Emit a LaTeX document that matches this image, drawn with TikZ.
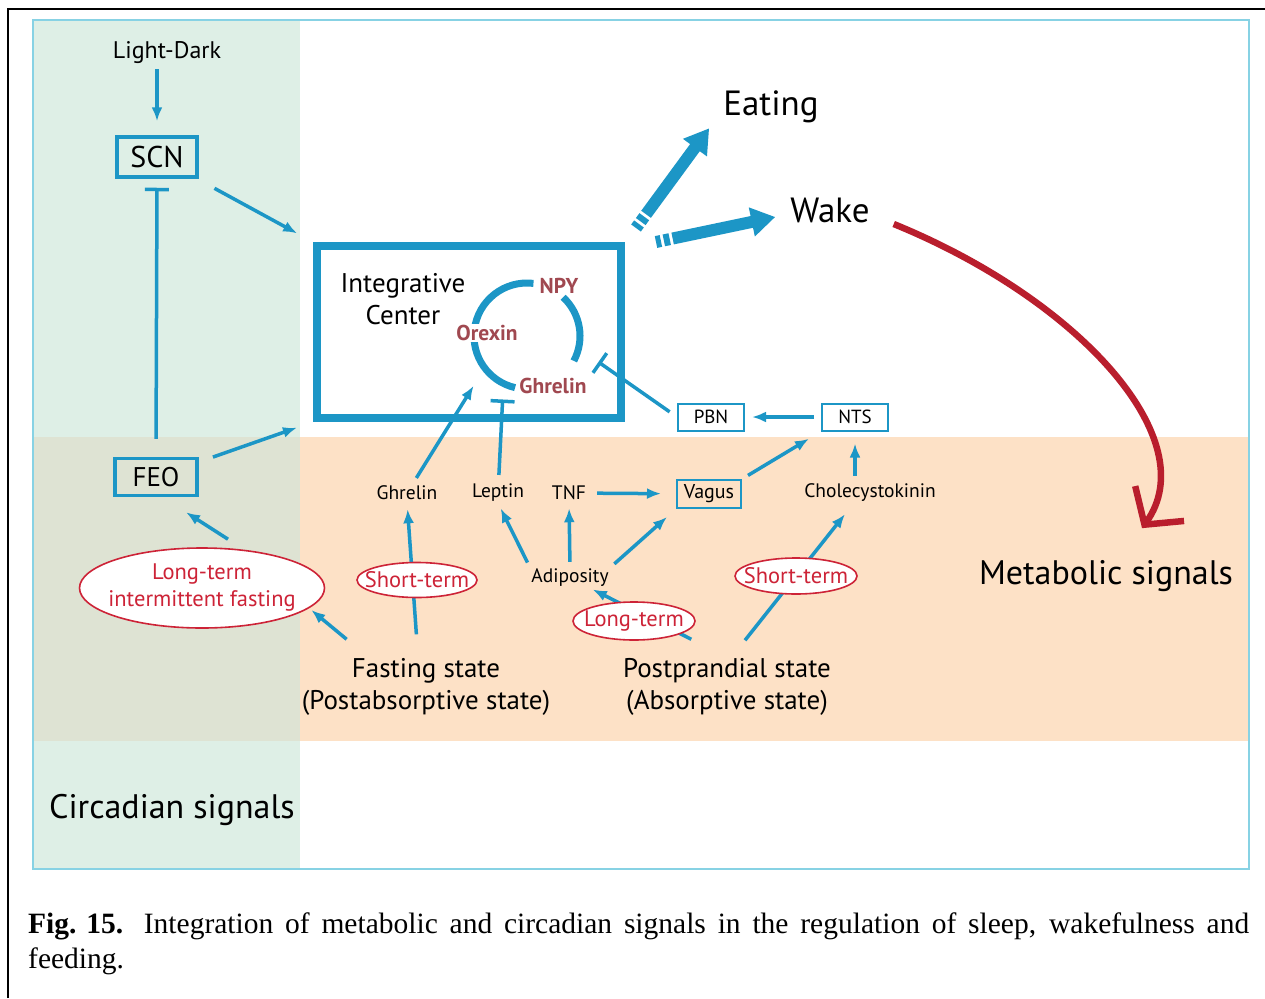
\documentclass[tikz,border=0pt]{standalone}
\usepackage{fontspec}
\setmainfont{Liberation Serif}
\newfontfamily\diafont{PT Sans}
\usetikzlibrary{arrows.meta,shapes.geometric,calc,shadows}

\definecolor{cblue}{RGB}{28,150,198}
\definecolor{cred}{RGB}{205,35,55}
\definecolor{cdark}{RGB}{185,30,45}
\definecolor{cbrown}{RGB}{160,72,80}
\definecolor{cgreen}{RGB}{222,239,230}
\definecolor{corange}{RGB}{253,225,198}
\definecolor{cmix}{RGB}{222,227,211}
\definecolor{cpanel}{RGB}{135,210,228}

\tikzset{
  fnt/.style={font=\diafont\fontsize{#1}{#1}\selectfont},
  lbl/.style={inner sep=1pt, fnt=#1},
  conn/.style={draw=cblue, line width=3.5pt, -{Latex[length=14pt,width=11pt]}},
  inh/.style={draw=cblue, line width=3.5pt, -{Bar[width=24pt,line width=3.5pt]}},
  bigbox/.style={draw=cblue, line width=3.5pt, inner sep=0pt},
  smallbox/.style={draw=cblue, line width=2pt, inner sep=0pt, minimum height=27pt, minimum width=66pt, fnt=19},
  term/.style={ellipse, draw=cred, line width=1.6pt, fill=white, text=cred, inner xsep=-16pt, inner ysep=-6pt},
  peptide/.style={text=cbrown, inner sep=1pt, font=\diafont\bfseries\fontsize{21.5}{21.5}\selectfont},
  bigarr/.style={draw=cblue, line width=12pt, -{Triangle[length=24pt,width=28pt]}, dash pattern=on 5pt off 3pt on 6pt off 3pt on 400pt},
  redarr/.style={draw=cdark, line width=6.5pt, -{Straight Barb[length=26pt,width=60pt,line width=6.5pt]}},
}

\begin{document}
\begin{tikzpicture}[x=1pt,y=-1pt]
\useasboundingbox (0,0) rectangle (1265,998);
\fill[white] (0,0) rectangle (1265,998);
\fill[cgreen] (33,20) rectangle (300,869);
\fill[corange] (300,437) rectangle (1249,741);
\fill[cmix] (33,437) rectangle (300,741);
\draw[cpanel, line width=1.5pt] (33,20) rectangle (1249,869);
\draw[line width=2pt] (8,998) -- (8,9) -- (1265,9);

\node[lbl=24] (ld) at (167,53) {Light-Dark};
\node[bigbox, fnt=30, minimum width=80pt, minimum height=40pt] (scn) at (157,157) {SCN};
\node[bigbox, fnt=27, minimum width=82pt, minimum height=37pt] (feo) at (156,477) {FEO};
\node[draw=cblue, line width=8pt, fill=white, minimum width=304pt, minimum height=172pt,
  drop shadow={opacity=0.35, shadow xshift=3pt, shadow yshift=-3pt}] (icbox) at (469,332) {};
\node[inner sep=1pt, align=center, font=\diafont\fontsize{27}{32}\selectfont] (ictext) at (403,299) {Integrative\\Center};

\coordinate (ring) at (527,336);
\draw[cblue, line width=7pt] ($(ring)+(83:53pt)$) arc[start angle=83, end angle=257, radius=53pt];
\draw[cblue, line width=7pt] ($(ring)+(47:53pt)$) arc[start angle=47, end angle=-28, radius=53pt];
\node[peptide] (npy) at (559,286) {NPY};
\node[peptide, fill=white] (orx) at (487,333) {Orexin};
\node[peptide] (ghi) at (553,386) {Ghrelin};

\node[smallbox] (pbn) at (711,417) {PBN};
\node[smallbox] (nts) at (855,417) {NTS};
\node[smallbox, minimum width=64pt, minimum height=28pt, fnt=20] (vagus) at (709,494) {Vagus};

\node[lbl=19.5] (ghr) at (407,493) {Ghrelin};
\node[lbl=19.5] (lep) at (498,493) {Leptin};
\node[lbl=19.5] (tnf) at (569,493) {TNF};
\node[lbl=19.5] (chol) at (870,493) {Cholecystokinin};
\node[lbl=19.5] (adi) at (570,578) {Adiposity};

\node[inner sep=1pt, align=center, font=\diafont\fontsize{27}{32}\selectfont] (fs) at (426,687) {Fasting state\\(Postabsorptive state)};
\node[inner sep=1pt, align=center, font=\diafont\fontsize{27}{32}\selectfont] (ps) at (727,687) {Postprandial state\\(Absorptive state)};
\node[term, inner xsep=-12pt, inner ysep=0pt, minimum width=245pt, minimum height=80pt, align=center, font=\diafont\fontsize{22.5}{27}\selectfont] (ltif) at (202,588) {Long-term\\intermittent fasting};

\node[lbl=35] (eat) at (771,107) {Eating};
\node[lbl=35] (wake) at (830,210) {Wake};
\node[lbl=34] (meta) at (1106,576) {Metabolic signals};
\node[lbl=34] (circ) at (172,810) {Circadian signals};

\draw[conn, shorten <=4pt, shorten >=14pt] (ld.south -| scn.north) -- (scn.north);
\draw[inh, shorten <=18pt, shorten >=9pt] (feo.north) -- (scn.south);
\draw[conn, shorten <=20pt, shorten >=18pt] (scn) -- (icbox.north west);
\draw[conn, shorten <=15pt, shorten >=17pt] (feo) -- (icbox.south west);

\draw[conn, shorten <=8pt] (ghr) -- ($(ring)+(223:73pt)$);
\draw[inh, shorten <=8pt] (lep) -- ($(ring)+(249:68pt)$);
\draw[inh, shorten <=9pt] (pbn.west) -- ($(ring)+(-20:76pt)$);

\draw[conn, shorten <=7pt, shorten >=7pt] (nts) -- (pbn);
\draw[conn, shorten <=7pt, shorten >=14pt] (vagus.north east) -- (nts.south west);
\draw[conn, shorten <=7pt, shorten >=12pt] (chol.north -| nts.south) -- (nts.south);
\draw[conn, shorten <=10pt, shorten >=15pt] (tnf) -- (vagus);
\draw[conn, shorten <=6pt, shorten >=6pt] (adi.north west) -- (lep.south);
\draw[conn, shorten <=6pt, shorten >=7pt] (adi.north) -- (tnf.south);
\draw[conn, shorten <=6pt, shorten >=12pt] (adi.north east) -- (vagus.south west);

\draw[conn, shorten <=23pt, shorten >=8pt] ($(fs.north)+(-8,0)$) -- (ghr.south);
\draw[conn, shorten <=40pt, shorten >=3pt] (ps.north) -- (adi);
\draw[conn] ($(ps.north)+(18,-17)$) -- ($(chol.south)+(-25,11)$);
\draw[conn] ($(fs.north west)+(46,-18)$) -- ($(ltif.east)+(-14,22)$);
\draw[conn] ($(ltif.north)+(26,-8)$) -- ($(feo.south)+(30,15)$);

\node[term, minimum width=120pt, minimum height=35pt, fnt=22.5] (st1) at (417,580) {Short-term};
\node[term, minimum width=122pt, minimum height=38pt, fnt=22.5] (lt) at (634,621) {Long-term};
\node[term, minimum width=122pt, minimum height=36pt, fnt=22.5] (st2) at (796,576) {Short-term};

\draw[bigarr] ($(icbox.north east)+(11,-14)$) -- ($(eat.south west)+(-13,4)$);
\draw[bigarr] ($(icbox.north east)+(31,0)$) -- ($(wake.west)+(-14,7)$);
\draw[redarr] ($(wake.east)+(23,14)$) .. controls (1080,300) and (1205,440) .. ($(meta.north)+(36,-31)$);

\node[anchor=north west, text width=1221pt, align=justify, inner sep=0pt,
  font=\fontsize{29.5}{35}\selectfont] (cap) at (28,913)
  {\mbox{\textbf{Fig. 15.}}\hspace{0.7em}Integration of metabolic and circadian signals in the regulation of sleep, wakefulness and\linebreak feeding.};
\end{tikzpicture}
\end{document}
